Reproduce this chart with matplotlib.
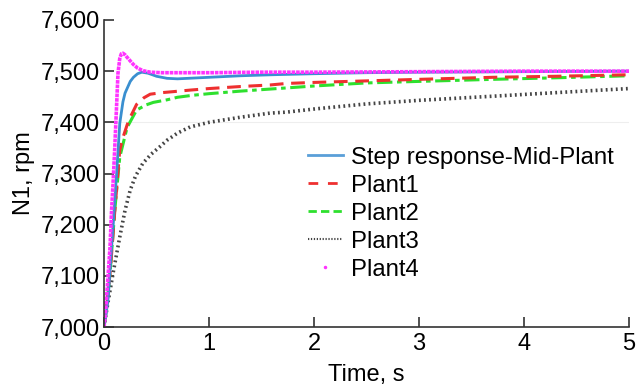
import matplotlib.pyplot as plt
from matplotlib.lines import Line2D

plt.rcParams['font.family'] = ['Liberation Sans', 'DejaVu Sans']

# step responses of N1 for the mid plant and the four corner plants
t_mid = [0, 0.02, 0.04, 0.06, 0.086, 0.1, 0.12, 0.15, 0.18, 0.2, 0.25, 0.28, 0.32, 0.36,
         0.42, 0.5, 0.6, 0.7, 0.8, 1.0, 1.3, 1.6, 2.0, 2.5, 3.0, 4.0, 5.0]
n1_mid = [7000, 7025, 7058, 7120, 7195, 7240, 7300, 7398, 7440, 7457, 7480, 7488, 7495, 7498,
          7496, 7490, 7486, 7485, 7486, 7488, 7491, 7493, 7495, 7497, 7498, 7499, 7500]

t_p1 = [0, 0.03, 0.06, 0.1, 0.15, 0.18, 0.22, 0.25, 0.31, 0.38, 0.44, 0.55, 0.66, 0.82,
        1.0, 1.3, 1.58, 1.74, 2.0, 2.5, 3.0, 3.7, 4.3, 5.0]
n1_p1 = [7000, 7050, 7110, 7220, 7346, 7370, 7395, 7410, 7435, 7448, 7455, 7458, 7460, 7463,
         7466, 7470, 7473, 7476, 7478, 7481, 7484, 7488, 7490, 7493]

t_p2 = [0, 0.03, 0.057, 0.105, 0.15, 0.22, 0.31, 0.4, 0.47, 0.6, 0.7, 0.85, 1.0, 1.3,
        1.58, 2.0, 2.5, 3.0, 3.7, 4.3, 5.0]
n1_p2 = [7000, 7050, 7105, 7234, 7332, 7390, 7424, 7434, 7439, 7444, 7449, 7453, 7456, 7461,
         7465, 7471, 7477, 7480, 7484, 7487, 7491]

t_p3 = [0, 0.03, 0.086, 0.15, 0.2, 0.25, 0.3, 0.37, 0.45, 0.53, 0.6, 0.7, 0.82, 1.0,
        1.3, 1.58, 1.74, 2.0, 2.5, 3.0, 3.7, 4.3, 5.0]
n1_p3 = [7000, 7039, 7105, 7176, 7228, 7268, 7295, 7320, 7338, 7352, 7365, 7379, 7391, 7400,
         7410, 7418, 7420, 7426, 7436, 7443, 7451, 7458, 7466]

t_p4 = [0, 0.01, 0.02, 0.03, 0.045, 0.057, 0.07, 0.086, 0.1, 0.115, 0.133, 0.15, 0.165,
        0.18, 0.2, 0.22, 0.25, 0.28, 0.32, 0.37, 0.44, 0.55, 0.7, 1.0, 1.5, 2.0, 3.0, 4.0, 5.0]
n1_p4 = [7000, 7020, 7045, 7075, 7120, 7156, 7220, 7281, 7340, 7410, 7496, 7525, 7534,
         7535, 7532, 7527, 7520, 7513, 7506, 7501, 7498, 7497, 7497, 7497, 7498, 7498, 7499, 7500, 7500]

labels = ['Step response-Mid-Plant', 'Plant1', 'Plant2', 'Plant3', 'Plant4']
yticks = [7000, 7100, 7200, 7300, 7400, 7500, 7600]

fig = plt.figure(figsize=(6.37, 3.86), dpi=100)
ax = fig.add_axes([0.1633, 0.1528, 0.8241, 0.7954])

ax.plot(t_p3, n1_p3, color='#444444', lw=2.6, ls=(0, (0.5, 0.9)))
ax.plot(t_p2, n1_p2, color='#2ee02e', lw=2.2, ls=(0, (5, 1.5, 1.5, 1.5)))
ax.plot(t_p1, n1_p1, color='#ee3030', lw=2.2, ls=(0, (4.5, 2.5)))
ax.plot(t_mid, n1_mid, color='#3a8fd0', lw=2.0)
ax.plot(t_p4, n1_p4, color='#ff33ff', lw=2.6, ls=(0, (1.0, 0.25)))

handles = [
    Line2D([], [], color='#5a9fd8', lw=2.0),
    Line2D([], [], color='#ee3030', lw=2.0, ls=(0, (3.5, 3.5))),
    Line2D([], [], color='#2ee02e', lw=2.0, ls=(0, (3, 1.5))),
    Line2D([], [], color='#444444', lw=1.5, ls=(0, (0.6, 0.8))),
    Line2D([], [], color='#ff33ff', marker='.', markersize=3, ls='none'),
]
ax.legend(handles, labels, loc='upper left', bbox_to_anchor=(0.370, 0.618), frameon=False,
          fontsize=17.2, handlelength=1.46, handletextpad=0.33, labelspacing=0.25,
          borderaxespad=0)

ax.set_xlim(0, 5)
ax.set_ylim(7000, 7600)
ax.set_yticks(yticks)
ax.set_yticklabels([f'{v:,}' for v in yticks])
ax.set_xticks(range(6))
ax.axhline(7400, color='#eeeeee', lw=0.8, zorder=0)

for side in ['top', 'right']:
    ax.spines[side].set_visible(False)
for side in ['left', 'bottom']:
    ax.spines[side].set_color('#333333')
    ax.spines[side].set_linewidth(1.2)
ax.tick_params(direction='in', length=7, width=1.2, color='#333333', labelsize=17)
ax.tick_params(axis='x', pad=4)
ax.tick_params(axis='y', pad=3)

ax.set_xlabel('Time, s', fontsize=17, labelpad=7)
ax.set_ylabel('N1, rpm', fontsize=17, labelpad=4)

fig.savefig('out.png', dpi=100)
